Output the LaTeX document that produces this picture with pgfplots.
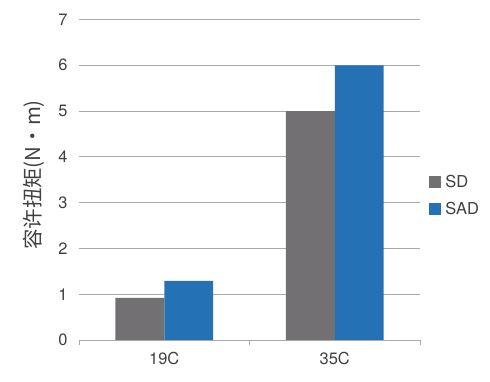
\documentclass[border=0pt]{standalone}
\usepackage{pgfplots}
\pgfplotsset{compat=1.18}
\usepackage{fontspec}
\setmainfont{TeX Gyre Heros}
\newfontfamily\cjk{Noto Sans CJK SC}
\definecolor{sdgray}{RGB}{115,112,115}
\definecolor{sadblue}{RGB}{37,113,181}
\definecolor{txt}{RGB}{64,64,64}
\definecolor{gridc}{RGB}{170,170,170}
\begin{document}
\begin{tikzpicture}
\useasboundingbox (0,0) rectangle (490bp,382bp);
\begin{axis}[
  at={(79bp,42bp)}, anchor=south west,
  scale only axis, width=341bp, height=320.5bp,
  ybar=0pt, bar width=0.287,
  xmin=-0.5, xmax=1.5, ymin=0, ymax=7,
  xtick={0,1}, xticklabels={19C,35C},
  extra x ticks={-0.5,0.5,1.5}, extra x tick labels={},
  extra x tick style={major tick length=5bp, tick style={gridc, line width=0.8pt}, grid=none},
  ytick={0,1,...,7},
  axis x line*=bottom, axis y line*=left,
  x axis line style={gridc, line width=0.8pt, -},
  y axis line style={draw=none},
  tick align=outside, xtick pos=bottom, ytick pos=left,
  major tick length=0pt,
  ymajorgrids, grid style={gridc, line width=0.8pt},
  /pgf/number format/assume math mode=true,
  tick label style={font=\fontsize{16.5}{18}\selectfont, text=txt},
  yticklabel style={xshift=-8bp},
  xticklabel style={yshift=-9bp},
  ylabel={\cjk 容许扭矩(N・m)},
  every axis y label/.style={at={(axis description cs:-0.132,0.515)}, rotate=90, anchor=center, font=\fontsize{20.5}{22}\selectfont, text=txt},
  legend cell align=left,
  legend style={at={(axis description cs:1.017,0.45)}, anchor=west, draw=none, fill=none,
    font=\fontsize{16.5}{18}\selectfont, text=txt, row sep=9bp},
  legend image code/.code={\fill[#1] (0bp,-6bp) rectangle (12bp,6bp); \path (0bp,0bp) -- (14.5bp,0bp);},
]
\addplot[fill=sdgray, draw=none] coordinates {(0,0.92) (1,5.0)};
\addplot[fill=sadblue, draw=none] coordinates {(0,1.29) (1,6.0)};
\legend{SD,SAD}
\end{axis}
\end{tikzpicture}
\end{document}
